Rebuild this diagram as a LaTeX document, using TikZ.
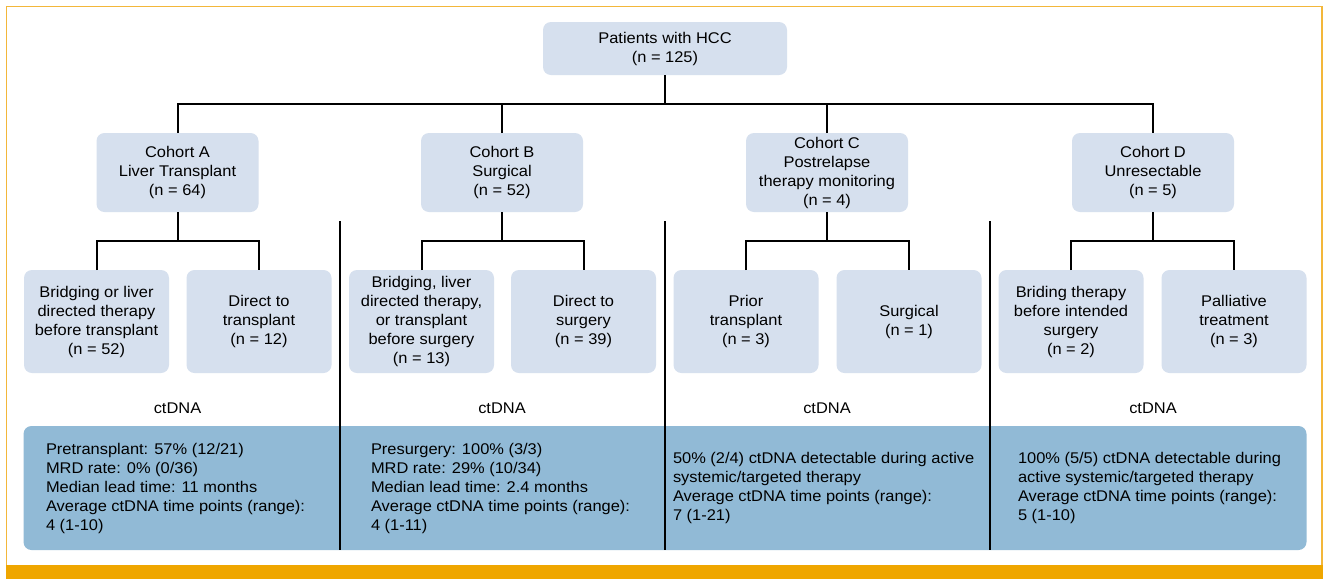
\documentclass[tikz,border=0pt]{standalone}
\usepackage{fontspec}
\setmainfont{Liberation Sans}[FakeStretch=1.06]
\definecolor{boxlight}{HTML}{D6E0EE}
\definecolor{boxblue}{HTML}{91BAD6}
\definecolor{orangebar}{HTML}{EFA600}
\definecolor{orangeline}{HTML}{F3B73A}
\begin{document}
\begin{tikzpicture}[x=1pt,y=-1pt,
  every node/.style={font=\fontsize{15.5}{19}\selectfont, inner sep=0pt, outer sep=0pt},
  lightbox/.style={fill=boxlight, rounded corners=8pt, align=center},
  cohortbox/.style={lightbox, minimum width=162pt, minimum height=79pt},
  childbox/.style={lightbox, minimum width=145pt, minimum height=103pt},
  conn/.style={draw=black, line width=2pt},
  divider/.style={draw=black, line width=1.8pt},
  stattext/.style={anchor=west, align=left}]
\useasboundingbox (0,0) rectangle (1323,579);
\fill[white] (0,0) rectangle (1323,579);
% frame
\draw[orangeline, line width=1.2pt] (6.5,565) -- (6.5,6.5) -- (1322,6.5) -- (1322,565);
\fill[orangebar] (6,565) rectangle (1323,579);
% top
\node[lightbox, minimum width=244pt, minimum height=53pt] (P) at (665,48.5) {Patients with HCC\\(n = 125)};
% cohorts
\node[cohortbox] (A) at (177.5,172.5) {Cohort A\\Liver Transplant\\(n = 64)};
\node[cohortbox] (B) at (502,172.5) {Cohort B\\Surgical\\(n = 52)};
\node[cohortbox] (C) at (827,172.5) {Cohort C\\Postrelapse\\therapy monitoring\\(n = 4)};
\node[cohortbox] (D) at (1153,172.5) {Cohort D\\Unresectable\\(n = 5)};
% children
\node[childbox] (A1) at (96.5,321.5) {Bridging or liver\\directed therapy\\before transplant\\(n = 52)};
\node[childbox] (A2) at (259,321.5) {Direct to\\transplant\\(n = 12)};
\node[childbox] (B1) at (421.5,321.5) {Bridging, liver\\directed therapy,\\or transplant\\before surgery\\(n = 13)};
\node[childbox] (B2) at (583.5,321.5) {Direct to\\surgery\\(n = 39)};
\node[childbox] (C1) at (746,321.5) {Prior\\transplant\\(n = 3)};
\node[childbox] (C2) at (909,321.5) {Surgical\\(n = 1)};
\node[childbox] (D1) at (1071,321.5) {Briding therapy\\before intended\\surgery\\(n = 2)};
\node[childbox] (D2) at (1234,321.5) {Palliative\\treatment\\(n = 3)};
% connectors
\draw[conn] (P.south) -- ++(0,29);
\draw[conn] (A.north) -- ++(0,-29) -| (D.north);
\draw[conn] (B.north) -- ++(0,-29);
\draw[conn] (C.north) -- ++(0,-29);
\foreach \c in {A,B,C,D}{
  \draw[conn] (\c.south) -- ++(0,29);
  \draw[conn] (\c1.north) -- ++(0,-29) -| (\c2.north);
}
% ctDNA labels
\node (LA) at (177.5,408) {ctDNA};
\node (LB) at (502,408) {ctDNA};
\node (LC) at (827,408) {ctDNA};
\node (LD) at (1153,408) {ctDNA};
% blue panel
\node[fill=boxblue, rounded corners=8pt, minimum width=1283pt, minimum height=124pt] (panel) at (665,488) {};
% dividers
\coordinate (d1t) at (340,221); \coordinate (d1b) at (340,550);
\coordinate (d2t) at (665,221); \coordinate (d2b) at (665,550);
\coordinate (d3t) at (990,221); \coordinate (d3b) at (990,550);
\draw[divider] (d1t) -- (d1b);
\draw[divider] (d2t) -- (d2b);
\draw[divider] (d3t) -- (d3b);
% stats
\node[stattext] (SA) at (46,488) {Pretransplant: 57\% (12/21)\\MRD rate: 0\% (0/36)\\Median lead time: 11 months\\Average ctDNA time points (range):\\4 (1-10)};
\node[stattext] (SB) at (371,488) {Presurgery: 100\% (3/3)\\MRD rate: 29\% (10/34)\\Median lead time: 2.4 months\\Average ctDNA time points (range):\\4 (1-11)};
\node[stattext] (SC) at (673,487.5) {50\% (2/4) ctDNA detectable during active\\systemic/targeted therapy\\Average ctDNA time points (range):\\7 (1-21)};
\node[stattext] (SD) at (1018,487.5) {100\% (5/5) ctDNA detectable during\\active systemic/targeted therapy\\Average ctDNA time points (range):\\5 (1-10)};
\end{tikzpicture}
\end{document}
